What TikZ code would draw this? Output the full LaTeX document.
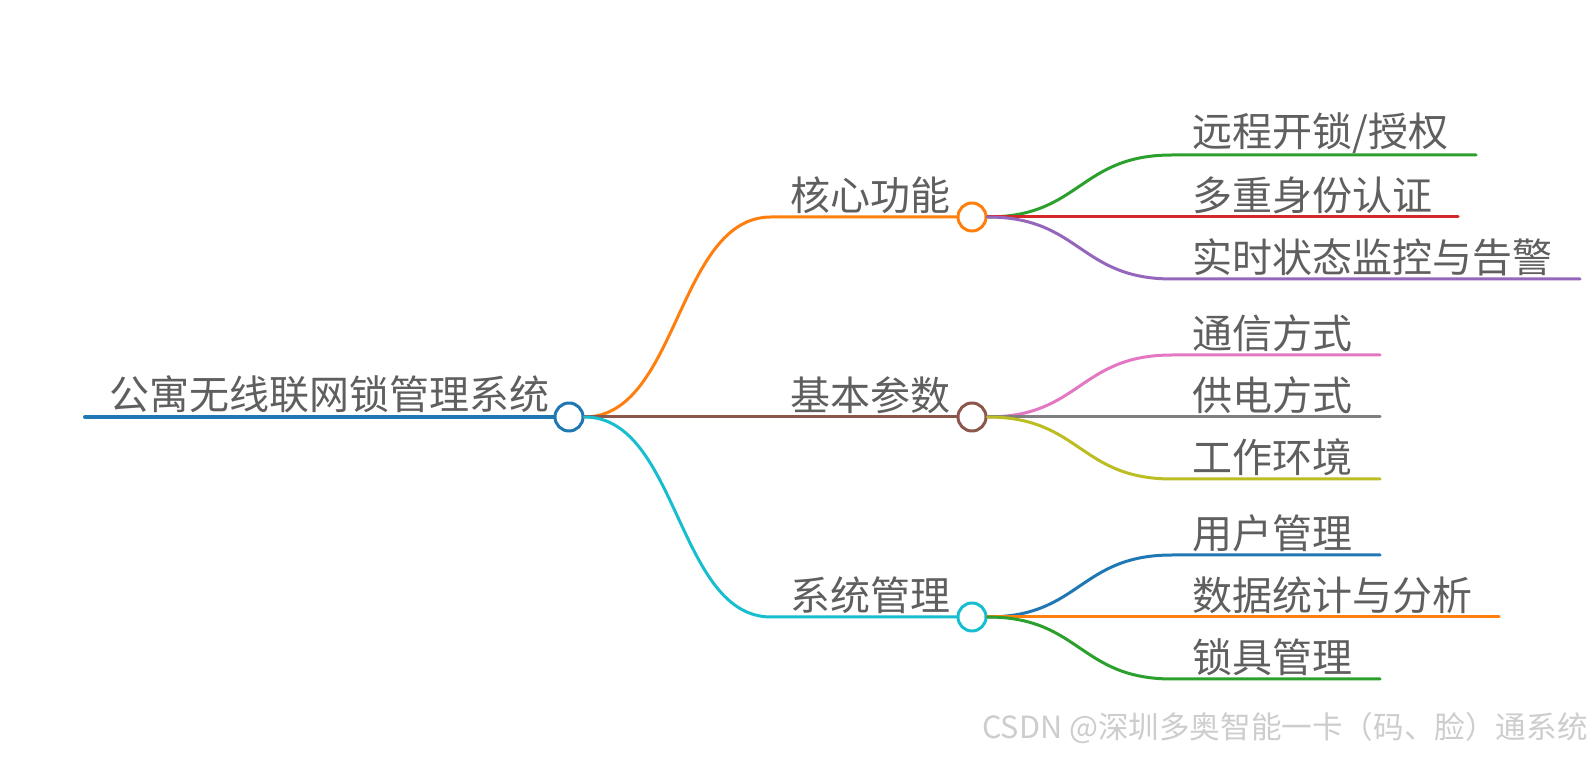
\documentclass[tikz,border=0pt]{standalone}
\usepackage{fontspec}
\setmainfont{Noto Sans CJK SC}

\begin{document}
\begin{tikzpicture}[x=0.5pt,y=-0.5pt,line cap=round,line join=round]

% Colors
\definecolor{mapblue}{RGB}{31,119,180}
\definecolor{maporange}{RGB}{255,127,14}
\definecolor{mapgreen}{RGB}{44,160,44}
\definecolor{mapred}{RGB}{214,39,40}
\definecolor{mappurple}{RGB}{148,103,189}
\definecolor{mapbrown}{RGB}{140,86,75}
\definecolor{mappink}{RGB}{227,119,194}
\definecolor{mapgray}{RGB}{127,127,127}
\definecolor{mapolive}{RGB}{188,189,34}
\definecolor{mapcyan}{RGB}{23,190,207}
\definecolor{labelgray}{RGB}{95,95,95}
\definecolor{markgray}{RGB}{205,205,205}

% Styles
\tikzset{
  hub/.style={circle,draw=#1,fill=white,line width=1.5pt,minimum size=14pt,inner sep=0pt},
  branch/.style={draw=#1,line width=1.5pt},
  maplabel/.style={font=\fontsize{20pt}{24pt}\selectfont,text=labelgray,anchor=west,inner sep=0pt},
  watermark/.style={font=\fontsize{15.3pt}{18pt}\selectfont,text=markgray,anchor=east,inner sep=0pt}
}

% Canvas
\fill[white] (0,0) rectangle (1591,758);
\useasboundingbox (0,0) rectangle (1591,758);

% Root
\coordinate (rootstart) at (85,417);
\node[hub=mapblue] (root) at (569,417) {};
\draw[branch=mapblue,line width=2pt] (rootstart) -- (root.west);
\node[maplabel] (rootlabel) at (109,394) {公寓无线联网锁管理系统};

% First level
\node[hub=maporange] (core) at (972,217) {};
\node[hub=mapbrown] (basic) at (972,417) {};
\node[hub=mapcyan] (system) at (972,617) {};
\coordinate (corebend) at (771,217);
\coordinate (systembend) at (771,617);
\draw[branch=maporange] (root.east) .. controls +(94,0) and +(-94,0) .. (corebend) -- (core.west);
\draw[branch=mapbrown] (root.east) -- (basic.west);
\draw[branch=mapcyan] (root.east) .. controls +(94,0) and +(-94,0) .. (systembend) -- (system.west);
\node[maplabel] (corelabel) at (790,195) {核心功能};
\node[maplabel] (basiclabel) at (790,395) {基本参数};
\node[maplabel] (systemlabel) at (790,595) {系统管理};

% Core functions
\coordinate (remotebend) at (1172,155);
\coordinate (remoteend) at (1476,155);
\coordinate (authend) at (1458,217);
\coordinate (monitorbend) at (1172,279);
\coordinate (monitorend) at (1580,279);
\draw[branch=mapgreen] (core.east) .. controls +(93,0) and +(-93,0) .. (remotebend) -- (remoteend);
\draw[branch=mapred] (core.east) -- (authend);
\draw[branch=mappurple] (core.east) .. controls +(93,0) and +(-93,0) .. (monitorbend) -- (monitorend);
\node[maplabel] (remote) at (1192,133) {远程开锁/授权};
\node[maplabel] (auth) at (1192,195) {多重身份认证};
\node[maplabel] (monitor) at (1192,257) {实时状态监控与告警};

% Basic parameters
\coordinate (commbend) at (1172,355);
\coordinate (commend) at (1380,355);
\coordinate (powerend) at (1380,417);
\coordinate (envbend) at (1172,479);
\coordinate (envend) at (1380,479);
\draw[branch=mappink] (basic.east) .. controls +(93,0) and +(-93,0) .. (commbend) -- (commend);
\draw[branch=mapgray] (basic.east) -- (powerend);
\draw[branch=mapolive] (basic.east) .. controls +(93,0) and +(-93,0) .. (envbend) -- (envend);
\node[maplabel] (comm) at (1192,333) {通信方式};
\node[maplabel] (power) at (1192,395) {供电方式};
\node[maplabel] (env) at (1192,457) {工作环境};

% System management
\coordinate (userbend) at (1172,555);
\coordinate (userend) at (1380,555);
\coordinate (statsend) at (1499,617);
\coordinate (lockbend) at (1172,679);
\coordinate (lockend) at (1380,679);
\draw[branch=mapblue] (system.east) .. controls +(93,0) and +(-93,0) .. (userbend) -- (userend);
\draw[branch=maporange] (system.east) -- (statsend);
\draw[branch=mapgreen] (system.east) .. controls +(93,0) and +(-93,0) .. (lockbend) -- (lockend);
\node[maplabel] (user) at (1192,533) {用户管理};
\node[maplabel] (stats) at (1192,595) {数据统计与分析};
\node[maplabel] (lock) at (1192,657) {锁具管理};

% Watermark
\node[watermark] (csdn) at (1588,728) {CSDN @深圳多奥智能一卡（码、脸）通系统};

\end{tikzpicture}
\end{document}
